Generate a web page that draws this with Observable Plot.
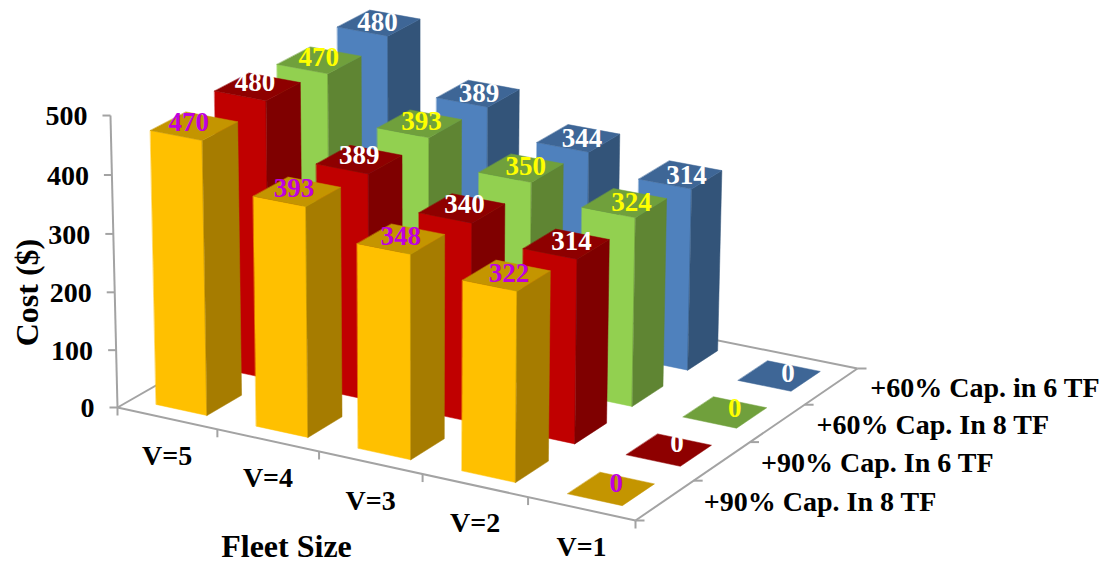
<!DOCTYPE html>
<html>
<head>
<meta charset="utf-8">
<style>html,body{margin:0;padding:0;background:#fff}svg{display:block}</style>
<script src="https://cdn.jsdelivr.net/npm/d3@7"></script>
<script src="https://cdn.jsdelivr.net/npm/@observablehq/plot@0.6"></script>
</head>
<body>
<div id="chart"></div>
<script>
// Minimum cost by fleet size for four capacity / time-frame scenarios.
const fleetSizes = ["V=5", "V=4", "V=3", "V=2", "V=1"];
const scenarios = ["+90% Cap. In 8 TF", "+90% Cap. In 6 TF", "+60% Cap. In 8 TF", "+60% Cap. in 6 TF"];
const cap90in8 = [470, 393, 348, 322, 0];
const cap90in6 = [480, 389, 340, 314, 0];
const cap60in8 = [470, 393, 350, 324, 0];
const cap60in6 = [480, 389, 344, 314, 0];
const valueTicks = [0, 100, 200, 300, 400, 500];

const seriesValues = [cap90in8, cap90in6, cap60in8, cap60in6];
const palettes = [
  {front: "#FFC000", side: "#A67C00", top: "#C49500", label: "#BF00DF", nudge: [-3, -1]},
  {front: "#C00000", side: "#7F0000", top: "#8E0000", label: "#FFFFFF", nudge: [0, -2]},
  {front: "#92D050", side: "#5F8533", top: "#70A03C", label: "#FFFF00", nudge: [2, 0]},
  {front: "#4F81BD", side: "#335479", top: "#3E6696", label: "#FFFFFF", nudge: [1, 2]}
];

const W = 1103, H = 563;

// Perspective camera: floor corners on the page, then a far vanishing point for the verticals.
const floor = {a: [117, 407], b: [635, 520], c: [857, 368], d: [360, 268]};
const nu = fleetSizes.length, nv = scenarios.length;
const dx3 = floor.a[0] - floor.b[0] + floor.c[0] - floor.d[0];
const dy3 = floor.a[1] - floor.b[1] + floor.c[1] - floor.d[1];
const dx1 = floor.b[0] - floor.c[0], dy1 = floor.b[1] - floor.c[1];
const dx2 = floor.d[0] - floor.c[0], dy2 = floor.d[1] - floor.c[1];
const det = dx1 * dy2 - dx2 * dy1;
const g = (dx3 * dy2 - dx2 * dy3) / det;
const i0 = (dx1 * dy3 - dx3 * dy1) / det;
const vanish = [420, 13000];
const rise = 0.02266 / 500;
const depthRise = 0.012;

function project(u, v, h) {
  const s = u / nu, t = v / nv;
  const w = 1 + g * s + i0 * t;
  const hx = floor.a[0] + (floor.b[0] * (1 + g) - floor.a[0]) * s + (floor.d[0] * (1 + i0) - floor.a[0]) * t;
  const hy = floor.a[1] + (floor.b[1] * (1 + g) - floor.a[1]) * s + (floor.d[1] * (1 + i0) - floor.a[1]) * t;
  const r = h * rise * (1 + depthRise * t);
  const q = w - r;
  return [(hx - r * vanish[0]) / q, (hy - r * vanish[1]) / q];
}

// Bar footprint inside each floor cell.
const U0 = 0.245, U1 = 0.755, V0 = 0.225, V1 = 0.775;

const vertices = [];
let faceId = 0;
function addFace(corners, color) {
  faceId++;
  for (const [u, v, h] of corners) {
    const [x, y] = project(u, v, h);
    vertices.push({x, y, face: faceId, color});
  }
}
// Painted back to front, then left to right, so nearer bars cover farther ones.
for (let j = nv - 1; j >= 0; j--) {
  const p = palettes[j];
  seriesValues[j].forEach((value, i) => {
    const a = i + U0, b = i + U1, c = j + V0, d = j + V1;
    if (value > 0) {
      addFace([[a, c, 0], [b, c, 0], [b, c, value], [a, c, value]], p.front);
      addFace([[b, c, 0], [b, d, 0], [b, d, value], [b, c, value]], p.side);
    }
    addFace([[a, c, value], [b, c, value], [b, d, value], [a, d, value]], p.top);
  });
}

// Value labels sit near the centre of each bar's top; zero tiles carry theirs a little higher.
const barLabels = seriesValues.flatMap((values, j) => values.map((value, i) => {
  const [x, y] = project(i + 0.5 + (i - 1) * 0.025, j + 0.5, value);
  const [nx, ny] = palettes[j].nudge;
  return {x: x + nx, y: y - 2 + ny - (value === 0 ? 4 : 0), text: String(value), color: palettes[j].label, j};
}));
barLabels.sort((p, q) => q.j - p.j);

const pt = (u, v, h) => { const [x, y] = project(u, v, h); return {x, y}; };
const link = (p, q) => ({x1: p.x, y1: p.y, x2: q.x, y2: q.y});
const shift = (p, dx, dy) => ({x: p.x + dx, y: p.y + dy});

const axisLines = [
  link(pt(0, 0, 0), pt(0, 0, 500)),
  link(pt(0, 0, 0), pt(nu, 0, 0)),
  link(pt(nu, 0, 0), pt(nu, nv, 0)),
  link(pt(0, 0, 0), pt(0, nv, 0)),
  link(pt(0, nv, 0), pt(nu, nv, 0)),
  ...valueTicks.map(h => link(pt(0, 0, h), shift(pt(0, 0, h), -8, 0))),
  ...d3.range(nu + 1).map(u => link(pt(u, 0, 0), shift(pt(u, 0, 0), 0, 8))),
  ...d3.range(nv + 1).map(v => link(pt(nu, v, 0), shift(pt(nu, v, 0), 9, 0)))
];

const valueLabels = valueTicks.map(h => ({...pt(0, 0, h), text: String(h)}));
const fleetLabels = fleetSizes.map((text, i) => ({...pt(i + 0.5, 0, 0), text}));
const scenarioLabels = scenarios.map((text, j) => ({...pt(nu, j + 0.5, 0), text}));

const serif = "'Liberation Serif', 'Times New Roman', serif";
const textStyle = {fontFamily: serif, fontWeight: "bold", fill: "#000"};

const chart = Plot.plot({
  width: W,
  height: H,
  margin: 0,
  x: {domain: [0, W], range: [0, W], axis: null},
  y: {domain: [0, H], range: [0, H], axis: null},
  color: {type: "identity"},
  marks: [
    Plot.link(axisLines, {x1: "x1", y1: "y1", x2: "x2", y2: "y2", stroke: "#A3A3A3", strokeWidth: 2}),
    Plot.line(vertices, {x: "x", y: "y", z: "face", fill: "color", stroke: "color", strokeWidth: 0.5, curve: "linear-closed"}),
    Plot.text(barLabels, {x: "x", y: "y", text: "text", fill: "color", fontFamily: serif, fontWeight: "bold", fontSize: 27}),
    Plot.text(valueLabels, {x: "x", y: "y", text: "text", textAnchor: "end", dx: -23, dy: 1, fontSize: 28, ...textStyle}),
    Plot.text(fleetLabels, {x: "x", y: "y", text: "text", dy: 38, fontSize: 28, ...textStyle}),
    Plot.text(scenarioLabels, {x: "x", y: "y", text: "text", textAnchor: "start", dx: 39, dy: 2, fontSize: 28, ...textStyle}),
    Plot.text(["Fleet Size"], {x: () => 286, y: () => 546, text: d => d, fontSize: 32, ...textStyle}),
    Plot.text(["Cost ($)"], {x: () => 27, y: () => 292, text: d => d, rotate: -90, fontSize: 32, ...textStyle})
  ]
});
document.getElementById("chart").append(chart);
</script>
</body>
</html>
